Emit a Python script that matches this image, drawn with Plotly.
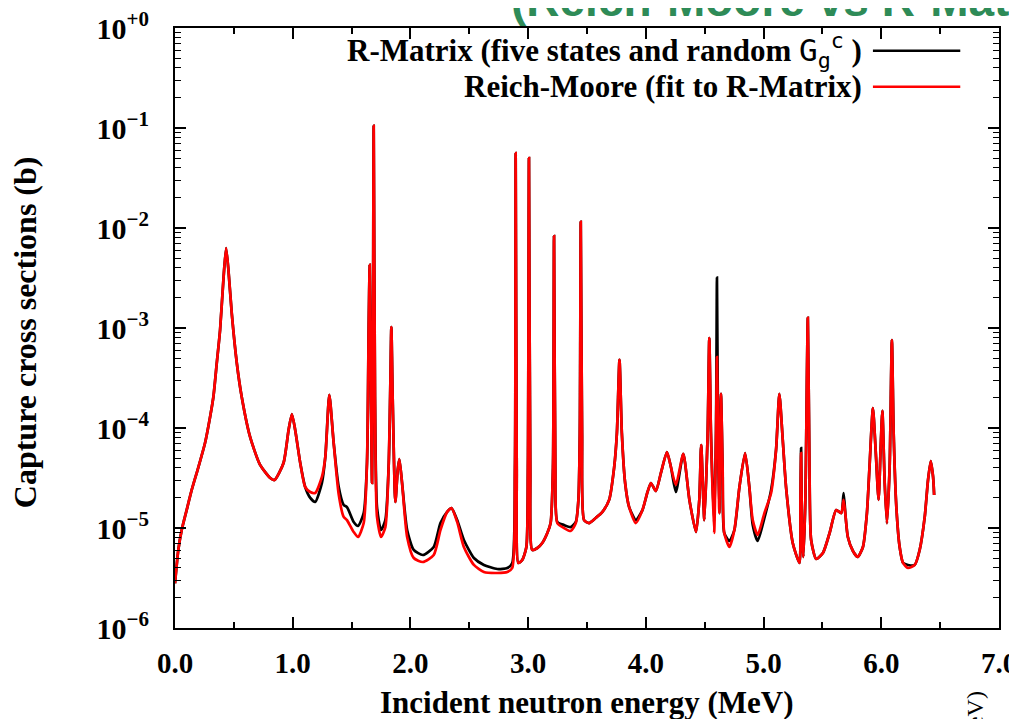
import plotly.graph_objects as go

# Incident neutron energy (MeV)
energy = [
    0.000, 0.028, 0.057, 0.099, 0.142, 0.199, 0.255, 0.298, 0.326, 0.355,
    0.383, 0.411, 0.434, 0.454, 0.482, 0.525, 0.567, 0.638, 0.723, 0.809,
    0.845, 0.922, 0.965, 0.993, 1.021, 1.064, 1.106, 1.149, 1.191, 1.248,
    1.277, 1.311, 1.348, 1.390, 1.433, 1.461, 1.518, 1.555, 1.603, 1.631,
    1.645, 1.654, 1.665, 1.674, 1.682, 1.688, 1.699, 1.716, 1.750, 1.787,
    1.816, 1.830, 1.838, 1.849, 1.872, 1.892, 1.906, 1.929, 1.972, 2.028,
    2.106, 2.198, 2.255, 2.312, 2.349, 2.397, 2.454, 2.539, 2.624, 2.738,
    2.823, 2.865, 2.888, 2.894, 2.903, 2.917, 2.950, 2.985, 2.998, 3.007,
    3.018, 3.035, 3.078, 3.120, 3.163, 3.191, 3.211, 3.220, 3.231, 3.248,
    3.305, 3.361, 3.405, 3.427, 3.439, 3.447, 3.458, 3.475, 3.517, 3.574,
    3.631, 3.688, 3.731, 3.754, 3.776, 3.796, 3.824, 3.858, 3.915, 3.971,
    4.014, 4.043, 4.085, 4.128, 4.179, 4.213, 4.255, 4.318, 4.370, 4.426,
    4.454, 4.470, 4.497, 4.525, 4.539, 4.553, 4.580, 4.596, 4.604, 4.613,
    4.624, 4.638, 4.652, 4.666, 4.710, 4.752, 4.795, 4.843, 4.879, 4.908,
    4.950, 5.007, 5.064, 5.106, 5.134, 5.163, 5.191, 5.248, 5.305, 5.313,
    5.319, 5.327, 5.338, 5.355, 5.376, 5.390, 5.404, 5.447, 5.504, 5.561,
    5.617, 5.660, 5.680, 5.697, 5.716, 5.759, 5.800, 5.844, 5.878, 5.900,
    5.929, 5.952, 5.977, 5.994, 6.009, 6.029, 6.048, 6.071, 6.090, 6.105,
    6.128, 6.156, 6.185, 6.227, 6.284, 6.326, 6.369, 6.397, 6.420, 6.440,
    6.449,
]

# Capture cross section (b), R-Matrix (five states and random Gamma)
sigma_rmatrix = [
    2.8e-6, 6.03e-6, 9.55e-6, 1.51e-5, 2.40e-5, 4.07e-5, 7.08e-5, 1.29e-4, 2.04e-4, 4.47e-4,
    9.55e-4, 3.02e-3, 6.31e-3, 3.80e-3, 1.41e-3, 4.47e-4, 2.04e-4, 8.13e-5, 4.27e-5, 3.16e-5,
    3.02e-5, 4.47e-5, 9.55e-5, 1.38e-4, 9.55e-5, 4.47e-5, 2.57e-5, 2.00e-5, 1.82e-5, 2.82e-5,
    5.13e-5, 2.14e-4, 7.08e-5, 2.60e-5, 1.70e-5, 1.62e-5, 1.15e-5, 1.05e-5, 1.41e-5, 4.47e-5,
    9.55e-4, 4.27e-3, 2.04e-4, 2.82e-5, 9.55e-4, 1.05e-1, 2.04e-4, 1.62e-5, 9.55e-6, 1.20e-5,
    4.47e-5, 3.02e-4, 1.02e-3, 2.04e-4, 1.82e-5, 3.80e-5, 4.90e-5, 2.82e-5, 9.55e-6, 6.03e-6,
    5.37e-6, 6.46e-6, 1.12e-5, 1.45e-5, 1.58e-5, 1.20e-5, 7.59e-6, 5.01e-6, 4.27e-6, 3.89e-6,
    3.98e-6, 4.47e-6, 4.07e-5, 5.6e-2, 4.07e-5, 4.47e-6, 4.79e-6, 6.46e-6, 4.07e-5, 5.0e-2,
    4.07e-5, 6.03e-6, 6.31e-6, 7.08e-6, 8.91e-6, 1.12e-5, 4.07e-5, 8.3e-3, 4.07e-5, 1.15e-5,
    1.07e-5, 1.02e-5, 1.15e-5, 1.91e-5, 8.91e-5, 1.15e-2, 8.91e-5, 1.20e-5, 1.12e-5, 1.26e-5,
    1.45e-5, 1.91e-5, 4.07e-5, 8.91e-5, 4.79e-4, 8.91e-5, 2.82e-5, 1.62e-5, 1.20e-5, 1.51e-5,
    2.29e-5, 2.82e-5, 2.34e-5, 3.55e-5, 5.75e-5, 4.07e-5, 2.29e-5, 5.50e-5, 1.91e-5, 9.12e-6,
    1.91e-5, 6.76e-5, 1.20e-5, 8.91e-5, 7.94e-4, 8.91e-5, 1.15e-5, 8.91e-5, 3.2e-3, 8.91e-5,
    1.41e-5, 2.19e-4, 4.07e-5, 8.91e-6, 7.41e-6, 9.55e-6, 2.57e-5, 5.62e-5, 2.57e-5, 1.07e-5,
    7.41e-6, 1.26e-5, 2.40e-5, 6.03e-5, 2.19e-4, 7.59e-5, 2.57e-5, 7.08e-6, 4.47e-6, 1.91e-5,
    6.31e-5, 8.91e-6, 5.13e-6, 1.91e-5, 1.26e-3, 4.07e-5, 7.59e-6, 4.90e-6, 5.62e-6, 8.91e-6,
    1.51e-5, 1.41e-5, 2.24e-5, 1.29e-5, 8.13e-6, 5.89e-6, 5.13e-6, 6.46e-6, 1.41e-5, 4.07e-5,
    1.58e-4, 6.03e-5, 1.91e-5, 6.03e-5, 1.48e-4, 2.82e-5, 1.12e-5, 4.07e-5, 7.59e-4, 8.91e-5,
    1.62e-5, 6.46e-6, 4.47e-6, 4.27e-6, 4.27e-6, 6.03e-6, 1.29e-5, 3.02e-5, 4.68e-5, 3.24e-5,
    2.14e-5,
]

# Capture cross section (b), Reich-Moore (fit to R-Matrix)
sigma_reichmoore = [
    2.8e-6, 6.03e-6, 9.55e-6, 1.51e-5, 2.40e-5, 4.07e-5, 7.08e-5, 1.29e-4, 2.04e-4, 4.47e-4,
    9.55e-4, 3.02e-3, 6.31e-3, 3.80e-3, 1.41e-3, 4.47e-4, 2.04e-4, 8.13e-5, 4.27e-5, 3.16e-5,
    3.02e-5, 4.47e-5, 9.55e-5, 1.38e-4, 9.55e-5, 4.47e-5, 2.57e-5, 2.29e-5, 2.24e-5, 3.24e-5,
    5.13e-5, 2.14e-4, 7.08e-5, 2.20e-5, 1.29e-5, 1.20e-5, 9.12e-6, 8.13e-6, 1.12e-5, 4.47e-5,
    9.55e-4, 4.27e-3, 2.04e-4, 2.82e-5, 9.55e-4, 1.05e-1, 2.04e-4, 1.29e-5, 8.13e-6, 1.02e-5,
    4.47e-5, 3.02e-4, 1.02e-3, 2.04e-4, 1.82e-5, 3.80e-5, 4.90e-5, 2.82e-5, 8.13e-6, 5.01e-6,
    4.57e-6, 5.37e-6, 9.55e-6, 1.45e-5, 1.58e-5, 1.15e-5, 6.46e-6, 4.27e-6, 3.63e-6, 3.55e-6,
    3.63e-6, 3.98e-6, 4.07e-5, 5.6e-2, 4.07e-5, 4.47e-6, 4.79e-6, 6.46e-6, 4.07e-5, 5.0e-2,
    4.07e-5, 6.03e-6, 6.31e-6, 7.08e-6, 8.91e-6, 1.12e-5, 4.07e-5, 8.3e-3, 4.07e-5, 1.12e-5,
    1.00e-5, 9.33e-6, 1.12e-5, 1.91e-5, 8.91e-5, 1.15e-2, 8.91e-5, 1.20e-5, 1.12e-5, 1.26e-5,
    1.45e-5, 1.91e-5, 4.07e-5, 8.91e-5, 4.79e-4, 8.91e-5, 2.82e-5, 1.62e-5, 1.12e-5, 1.51e-5,
    2.29e-5, 2.82e-5, 2.34e-5, 3.55e-5, 5.75e-5, 4.07e-5, 2.69e-5, 5.50e-5, 1.91e-5, 9.12e-6,
    1.91e-5, 6.76e-5, 1.20e-5, 8.91e-5, 7.94e-4, 8.91e-5, 8.91e-6, 8.91e-5, 5.13e-4, 8.91e-5,
    1.41e-5, 2.19e-4, 4.07e-5, 8.91e-6, 6.46e-6, 9.55e-6, 2.57e-5, 5.62e-5, 2.57e-5, 1.20e-5,
    8.51e-6, 1.41e-5, 2.24e-5, 6.03e-5, 2.19e-4, 7.59e-5, 2.57e-5, 7.08e-6, 4.47e-6, 1.91e-5,
    5.62e-5, 8.91e-6, 5.13e-6, 1.91e-5, 1.26e-3, 4.07e-5, 7.59e-6, 4.90e-6, 5.62e-6, 8.91e-6,
    1.51e-5, 1.41e-5, 1.91e-5, 1.29e-5, 8.13e-6, 5.89e-6, 5.13e-6, 6.46e-6, 1.41e-5, 4.07e-5,
    1.58e-4, 6.03e-5, 1.91e-5, 6.03e-5, 1.48e-4, 2.82e-5, 1.12e-5, 4.07e-5, 7.59e-4, 8.91e-5,
    1.62e-5, 6.46e-6, 4.47e-6, 3.98e-6, 4.27e-6, 6.03e-6, 1.29e-5, 3.02e-5, 4.68e-5, 3.24e-5,
    2.14e-5,
]

x_tick_vals = [0, 1, 2, 3, 4, 5, 6, 7]
y_tick_vals = [1e-6, 1e-5, 1e-4, 1e-3, 1e-2, 1e-1, 1e0]
y_tick_text = ["10<sup>\u22126</sup>", "10<sup>\u22125</sup>", "10<sup>\u22124</sup>",
               "10<sup>\u22123</sup>", "10<sup>\u22122</sup>", "10<sup>\u22121</sup>",
               "10<sup>+0</sup>"]

label_rmatrix = ("R-Matrix (five states and random "
                 "<span style='font-family:DejaVu Sans Mono;font-weight:normal'>"
                 "G<sub>g</sub><sup>c</sup></span> )")
label_reichmoore = "Reich-Moore (fit to R-Matrix)"

SERIF = "Liberation Serif"

fig = go.Figure()
fig.add_trace(go.Scatter(x=energy, y=sigma_rmatrix, mode="lines", name=label_rmatrix,
                         line=dict(color="black", width=2.7, shape="spline", smoothing=0.6),
                         showlegend=False))
fig.add_trace(go.Scatter(x=energy, y=sigma_reichmoore, mode="lines", name=label_reichmoore,
                         line=dict(color="#ff0000", width=2.7, shape="spline", smoothing=0.6),
                         showlegend=False))

# key drawn gnuplot-style: right-aligned text with the sample line to its right
legend_rows = [(label_rmatrix, "black", 0.962), (label_reichmoore, "#ff0000", 0.902)]
for text, color, yy in legend_rows:
    fig.add_annotation(xref="paper", yref="paper", x=0.836, y=yy, text=text,
                       showarrow=False, xanchor="right", yanchor="middle",
                       font=dict(family=SERIF, size=31, color="black", weight="bold"))
    fig.add_shape(type="line", xref="paper", yref="paper", x0=0.847, x1=0.953,
                  y0=yy, y1=yy, line=dict(color=color, width=2.4))

# axis titles
fig.add_annotation(xref="paper", yref="paper", x=-0.182, y=0.493,
                   text="Capture cross sections (b)", textangle=-90, showarrow=False,
                   xanchor="center", yanchor="middle",
                   font=dict(family=SERIF, size=32, color="black", weight="bold"))
fig.add_annotation(xref="paper", yref="paper", x=0.5, y=-0.124,
                   text="Incident neutron energy (MeV)", showarrow=False,
                   xanchor="center", yanchor="middle",
                   font=dict(family=SERIF, size=31, color="black", weight="bold"))

# cut-off slide title in the background
fig.add_annotation(xref="paper", yref="paper", x=0.405, y=1.0,
                   text="<b>(Reich-Moore vs R-Matrix)</b>", showarrow=False,
                   xanchor="left", yanchor="bottom",
                   font=dict(family="Liberation Sans", size=46, color="#2e8b57"))
# cut-off rotated text at bottom right
fig.add_annotation(xref="paper", yref="paper", x=0.971, y=-0.103,
                   text="(MeV)", showarrow=False, textangle=-90,
                   xanchor="center", yanchor="top",
                   font=dict(family=SERIF, size=24, color="black"))

fig.update_layout(
    width=1001, height=711,
    margin=dict(l=167, r=10, t=20, b=91, autoexpand=False),
    paper_bgcolor="white", plot_bgcolor="white",
    font=dict(family=SERIF, color="black"),
)
fig.update_xaxes(
    range=[0, 7], tickvals=x_tick_vals, tickformat=".1f", automargin=False,
    ticks="inside", ticklen=11, tickwidth=1.5, tickcolor="black",
    minor=dict(dtick=0.5, ticks="inside", ticklen=6, tickwidth=1.5, tickcolor="black"),
    showline=True, linecolor="black", linewidth=2, mirror="allticks",
    showgrid=False, zeroline=False, ticklabelstandoff=8, ticklabeloverflow="allow",
    tickfont=dict(family=SERIF, size=29, weight="bold"),
)
fig.update_yaxes(
    type="log", range=[-6, 0], tickvals=y_tick_vals, ticktext=y_tick_text, automargin=False,
    ticks="inside", ticklen=11, tickwidth=1.5, tickcolor="black",
    minor=dict(ticks="inside", ticklen=6, tickwidth=1.2, tickcolor="black", dtick="D1"),
    showline=True, linecolor="black", linewidth=2, mirror="allticks",
    showgrid=False, zeroline=False, ticklabelstandoff=18, ticklabeloverflow="allow",
    tickfont=dict(family=SERIF, size=30, weight="bold"),
)

fig.write_html("out.html")
